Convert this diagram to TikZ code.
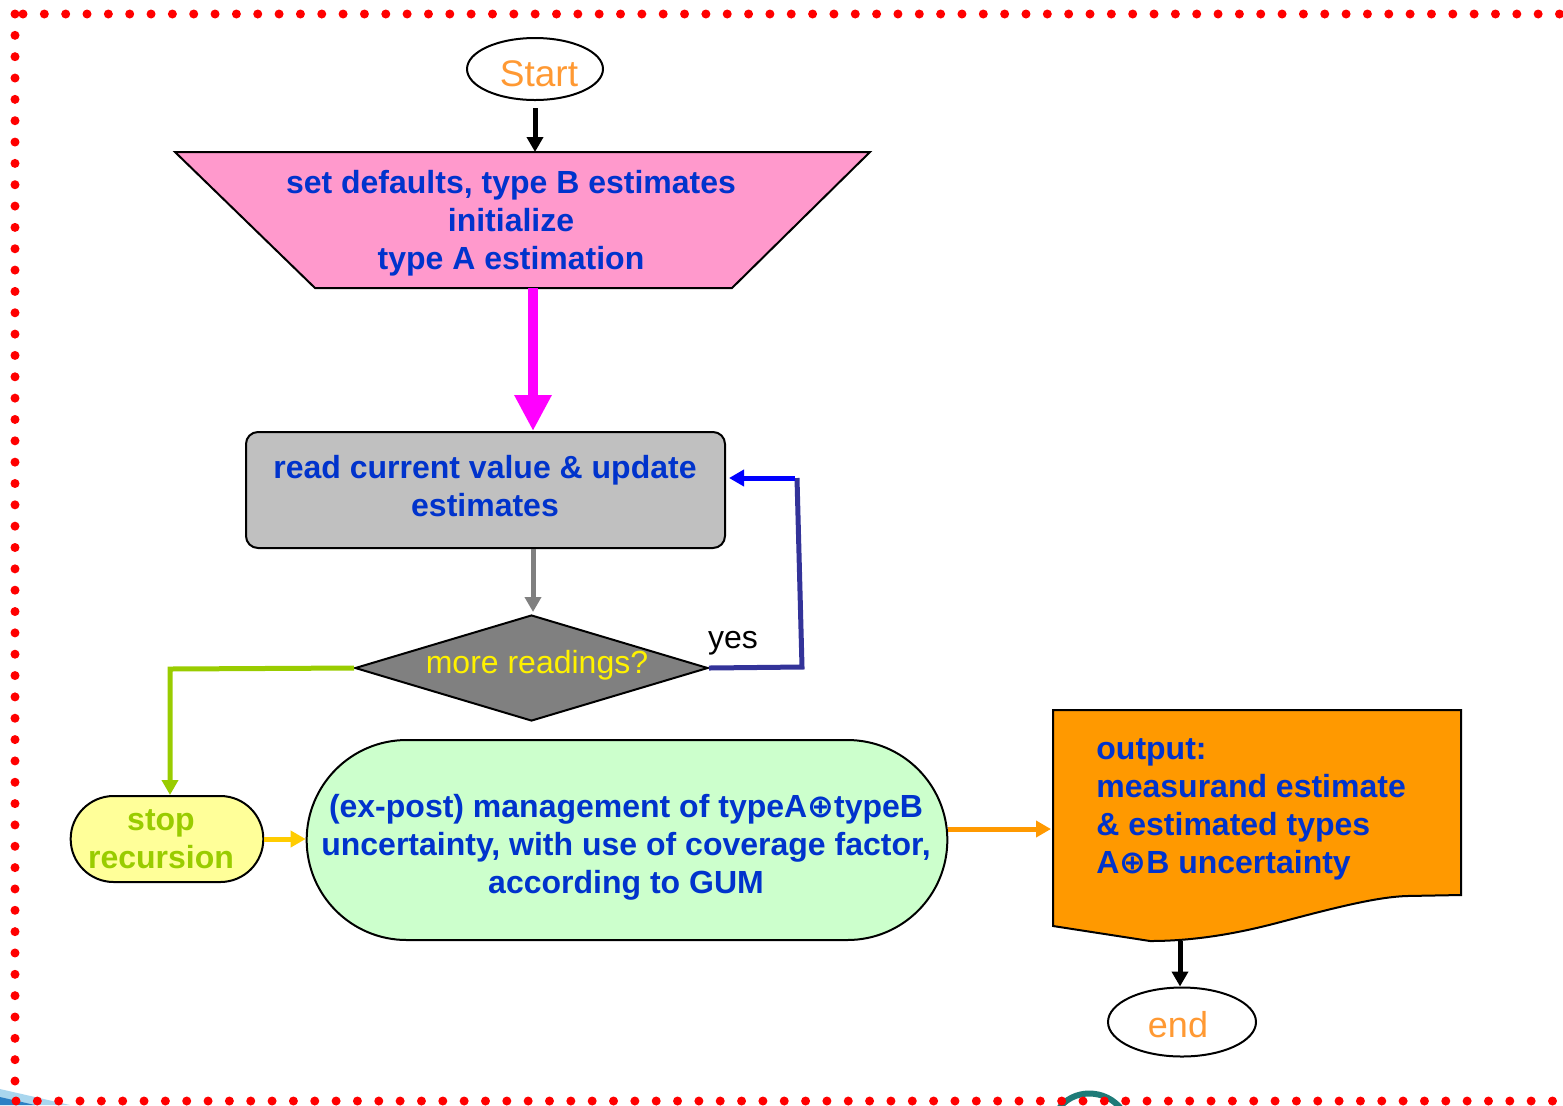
\documentclass[tikz,border=0pt]{standalone}
\usepackage{fontspec}
\setmainfont{Liberation Sans}
\newfontfamily\symf{DejaVu Sans}
\usetikzlibrary{shapes.geometric,shapes.misc,arrows.meta}
\definecolor{tblue}{HTML}{0033CC}
\definecolor{startor}{HTML}{FF9933}
\definecolor{pinkc}{HTML}{FF99CC}
\definecolor{boxgray}{HTML}{C0C0C0}
\definecolor{diagray}{HTML}{808080}
\definecolor{navyc}{HTML}{333399}
\definecolor{bluec}{HTML}{0000FF}
\definecolor{greenc}{HTML}{99CC00}
\definecolor{yellowbox}{HTML}{FFFF99}
\definecolor{arryel}{HTML}{FFCC00}
\definecolor{lgreen}{HTML}{CCFFCC}
\definecolor{orangec}{HTML}{FF9900}
\definecolor{magc}{HTML}{FF00FF}
\definecolor{reddot}{HTML}{FF0000}
\definecolor{tealc}{HTML}{1E7B78}
\definecolor{lblue}{HTML}{A9D6EE}
\definecolor{dblue}{HTML}{2C80C4}
\newcommand{\opl}{{\symf\bfseries ⊕}}
\tikzset{
  txt/.style={font=\fontsize{16}{19}\selectfont\bfseries, text=tblue, align=center, inner sep=0pt},
  termtxt/.style={text=startor, font=\fontsize{18.5}{22}\selectfont, inner sep=0pt},
  outl/.style={draw=black, line width=1pt},
  arr/.style={-{Triangle[length=7.5pt,width=8pt]}, line width=2.5pt},
  bigarr/.style={-{Triangle[length=18pt,width=17.5pt]}, line width=5pt},
  dots/.style={reddot, line width=4.5pt, line cap=round, dash pattern=on 0pt off 10.67pt}
}
\begin{document}
\begin{tikzpicture}[x=0.5pt,y=-0.5pt]
\useasboundingbox (0,0) rectangle (1563,1105);
% background fragments
\fill[lblue] (0,1089) -- (70,1105) -- (0,1105) -- cycle;
\fill[dblue] (0,1097) -- (35,1105) -- (0,1105) -- cycle;
\draw[tealc, line width=3pt] (1058,1110) .. controls (1072,1088) and (1106,1088) .. (1122,1110);
% border
\draw[dots] (23,14) -- (1563,14);
\draw[dots] (15,14) -- (15,1082);
\draw[dots] (16,1101) -- (1563,1101);

% start
\node[ellipse, outl, minimum width=68pt, minimum height=31pt, inner sep=0pt] (start) at (535,69) {};
\node[termtxt] (startt) at (539,74) {Start};
% trapezoid
\draw[outl, fill=pinkc] (175,152) -- (870,152) -- (732,288) -- (315,288) -- cycle;
\coordinate (initT) at (535,152);
\coordinate (initB) at (533,288);
\node[txt] (init) at (511,223) {set defaults, type B estimates\\initialize\\type A estimation};
% read box
\node[rectangle, rounded corners=6pt, outl, fill=boxgray, minimum width=239.5pt, minimum height=58pt] (read) at (485.5,490) {};
\node[txt] (readt) at (485,486.5) {read current value \& update\\estimates};
% diamond
\node[diamond, outl, fill=diagray, minimum width=176.5pt, minimum height=53pt, inner sep=0pt] (dia) at (531.5,668) {};
\node[text=yellow, font=\fontsize{16}{19}\selectfont, inner sep=0pt] (diat) at (537,665) {more readings?};
\node[font=\fontsize{16}{19}\selectfont, inner sep=0pt] (yes) at (733,643) {yes};
% stop recursion
\node[rounded rectangle, outl, fill=yellowbox, minimum width=103pt, minimum height=43pt] (stop) at (167,839) {};
\node[txt, text=greenc] (stopt) at (161,839) {stop\\recursion};
% GUM
\node[rounded rectangle, outl, fill=lgreen, minimum width=327pt, minimum height=100pt] (gum) at (627,840) {};
\node[txt] (gumt) at (626,847) {(ex-post) management of typeA\opl typeB\\uncertainty, with use of coverage factor,\\according to GUM};
% document
\draw[outl, fill=orangec] (1053,710) -- (1461,710) -- (1461,895) -- (1407,896)
  .. controls (1375,897) and (1330,909) .. (1273,924)
  .. controls (1230,935) and (1190,941) .. (1150,941) -- (1053,926) -- cycle;
\node[txt, align=left, anchor=west] (out) at (1096,809) {output:\\measurand estimate\\\& estimated types\\A\opl B uncertainty};
\coordinate (outL) at (1051,829);
\coordinate (docB) at (1180,941);
% end
\node[ellipse, outl, minimum width=74pt, minimum height=34.5pt, inner sep=0pt] (end) at (1182,1022) {};
\node[termtxt, font=\fontsize{18}{22}\selectfont] (endt) at (1178,1025) {end};

% connectors
\draw[arr, black] ([yshift=-3.5pt]start.south -| initT) -- (initT);
\draw[bigarr, magc] (initB) -- (initB |- read.north);
\draw[arr, diagray] (initB |- read.south) -- ([yshift=1pt]initB |- dia.north);
\coordinate (lp1) at (802,667);
\coordinate (lp2) at (797,478);
\draw[navyc, line width=2.5pt, line join=miter] (dia.east) -- (lp1) -- (lp2);
\draw[arr, bluec] ([xshift=-1pt]lp2) -- ([xshift=1.5pt]read.east |- lp2);
\coordinate (gc) at (170,669);
\draw[arr, greenc] (dia.west) -- (gc) -- (gc |- stop.north);
\draw[arr, arryel] (stop.east) -- (stop.east -| gum.west);
\draw[arr, orangec] (gum.east |- outL) -- (outL);
\draw[arr, black] (docB) -- (end.north -| docB);
\end{tikzpicture}
\end{document}
